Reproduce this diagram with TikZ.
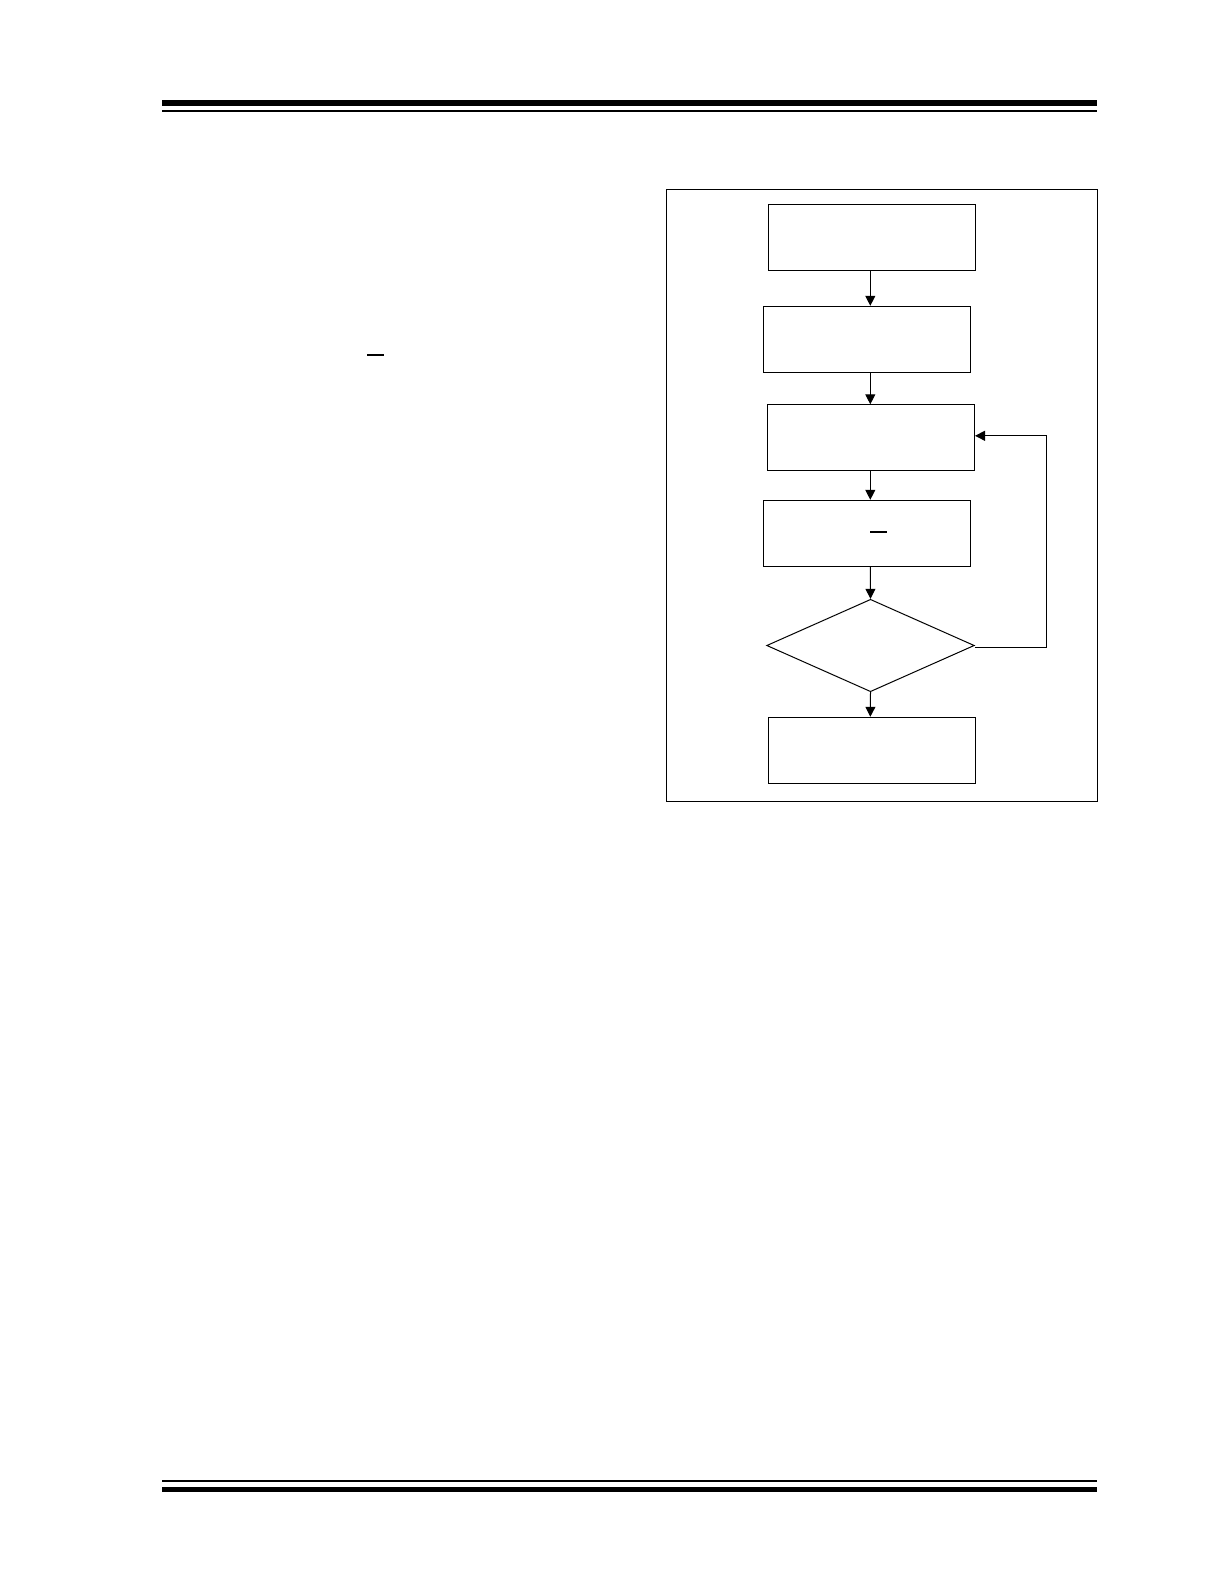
\documentclass[tikz,border=0pt]{standalone}
\usepackage{tikz}
\usetikzlibrary{positioning, shapes, arrows.meta, calc}

\begin{document}
\begin{tikzpicture}[
  x=0.5pt, y=-0.5pt,
  stepbox/.style={
    rectangle,
    minimum width=103.5pt, minimum height=33pt,
    inner sep=0pt, line width=0.5pt,
    draw=black, fill=white
  },
  decision/.style={
    diamond, aspect=2.25,
    minimum width=103.8pt, minimum height=46.2pt,
    inner sep=0pt, line width=0.5pt,
    draw=black
  },
  flow/.style={-{Triangle[length=5pt,width=5pt]}, line width=0.5pt}
]
\useasboundingbox (0,0) rectangle (1224,1584);

% page rules, top and bottom
\fill (162,100) rectangle (1097,106);
\fill (162,110) rectangle (1097,112);
\fill (162,1480) rectangle (1097,1482);
\fill (162,1487) rectangle (1097,1492);

% overbar left over in the text column
\fill (367,354) rectangle (384,356);

% figure frame
\draw[line width=0.5pt] (666,189) rectangle (1097,801);

% flow chart
\coordinate (axis) at (870.3,0);
\coordinate (loop) at (1046.3,0);

\node[stepbox] (start) at (872,237.3) {};
\node[stepbox] (setup) at (867,339.3) {};
\node[stepbox] (write) at (871,437.8) {};
\node[stepbox] (pulse) at (867,533.3) {};
\node[decision] (check) at (870.5,645.5) {};
\node[stepbox] (done) at (871.5,750.3) {};

% overbar inside the fourth box
\fill (870,530.5) rectangle (887,532.7);

\draw[flow] (start.south -| axis) -- (setup.north -| axis);
\draw[flow] (setup.south -| axis) -- (write.north -| axis);
\draw[flow] (write.south -| axis) -- (pulse.north -| axis);
\draw[flow] (pulse.south -| axis) -- (check.north);
\draw[flow] (check.south) -- (done.north -| axis);
\draw[flow] ([yshift=-1pt]check.east) -- ([yshift=-1pt]check.east -| loop) |- ([yshift=1pt]write.east);
\end{tikzpicture}
\end{document}
